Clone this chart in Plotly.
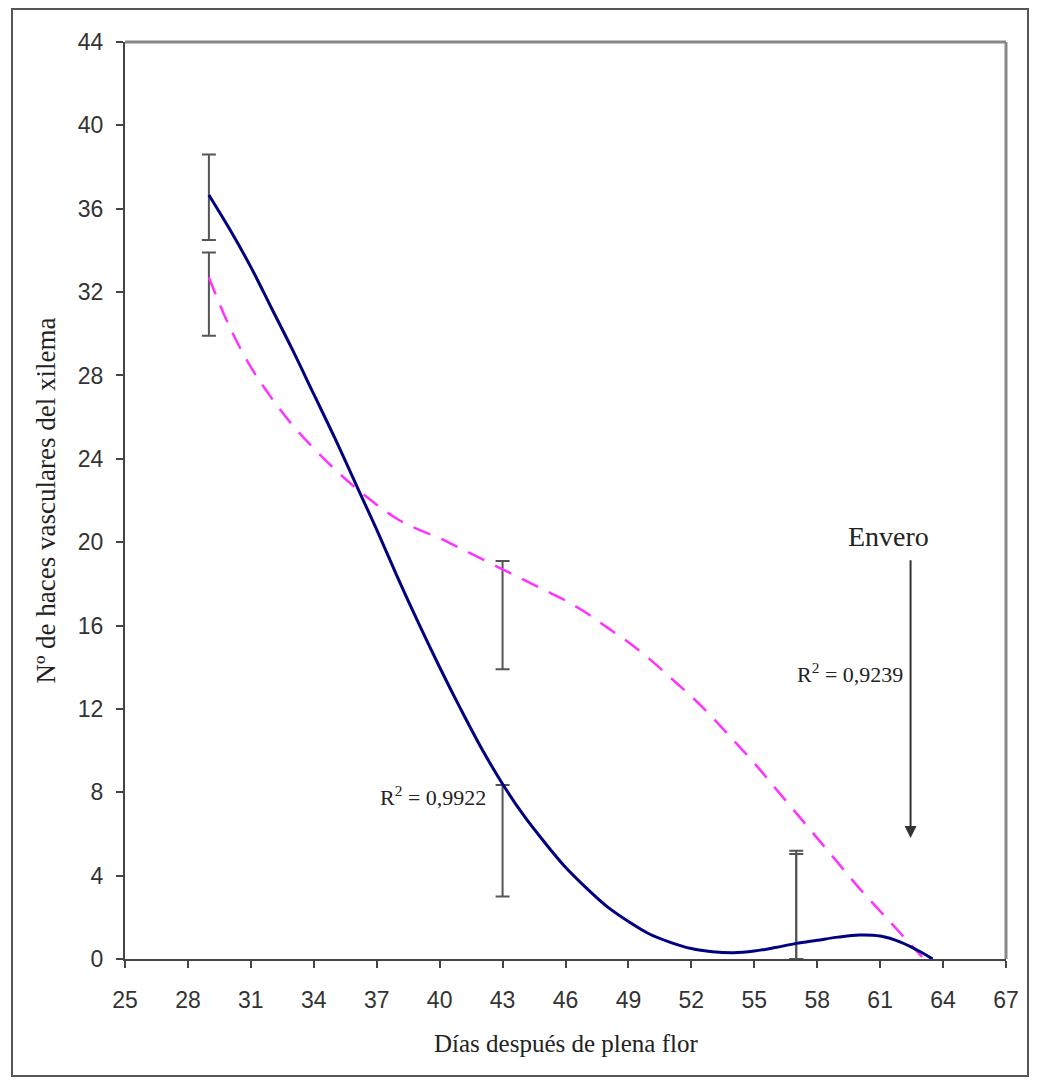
import plotly.graph_objects as go

# ---- data ----
blue_x = [29, 30, 31, 32, 33, 34, 35, 36, 37, 38, 39, 40, 41, 42, 43, 44, 45, 46, 47, 48,
          49, 50, 51, 52, 53, 54, 55, 56, 57, 58, 59, 60, 61, 62, 63, 63.5]
blue_y = [36.66, 35.0, 33.2, 31.2, 29.2, 27.1, 25.0, 22.8, 20.6, 18.3, 16.1, 14.0, 12.0,
          10.1, 8.4, 6.9, 5.6, 4.4, 3.4, 2.5, 1.8, 1.2, 0.8, 0.5, 0.35, 0.3, 0.38, 0.55,
          0.75, 0.9, 1.05, 1.15, 1.1, 0.8, 0.3, 0.0]

pink_x = [29, 30, 31, 32, 33, 34, 35, 36, 37, 38, 39, 40, 41, 42, 43, 44, 45, 46, 47, 48, 49,
          50, 51, 52, 53, 54, 55, 56, 57, 58, 59, 60, 61, 62, 63]
pink_y = [32.7, 30.3, 28.4, 26.9, 25.6, 24.5, 23.5, 22.6, 21.8, 21.1, 20.6, 20.2, 19.7, 19.2,
          18.7, 18.2, 17.7, 17.2, 16.6, 15.9, 15.2, 14.4, 13.5, 12.6, 11.6, 10.5, 9.4, 8.2,
          7.0, 5.8, 4.6, 3.4, 2.3, 1.2, 0.1]

err_days = [29, 43, 57]
blue_mean = [36.55, 5.675, 2.6]
blue_err = [2.05, 2.675, 2.6]
pink_mean = [31.9, 16.5, 2.52]
pink_err = [2.0, 2.6, 2.52]

x_ticks = [25, 28, 31, 34, 37, 40, 43, 46, 49, 52, 55, 58, 61, 64, 67]
y_ticks = [0, 4, 8, 12, 16, 20, 24, 28, 32, 36, 40, 44]

fig = go.Figure()

for mean, err in [(blue_mean, blue_err), (pink_mean, pink_err)]:
    fig.add_trace(go.Scatter(
        x=err_days, y=mean, mode="markers",
        marker=dict(size=1, opacity=0),
        error_y=dict(type="data", array=err, visible=True, color="#555555",
                     thickness=2, width=7),
        showlegend=False, hoverinfo="skip"))

fig.add_trace(go.Scatter(
    x=pink_x, y=pink_y, mode="lines", line_shape="spline",
    line=dict(color="#FF33FF", width=2.5, dash="18px,12px"), showlegend=False))
fig.add_trace(go.Scatter(
    x=blue_x, y=blue_y, mode="lines", line_shape="spline",
    line=dict(color="#000080", width=3), showlegend=False))

tickfont = dict(family="Liberation Sans, Arial, sans-serif", size=23, color="#333333")
serif = "Liberation Serif, Times New Roman, serif"

fig.update_layout(
    width=1040, height=1084,
    margin=dict(l=117, r=42, t=34, b=133),
    paper_bgcolor="white", plot_bgcolor="white",
    xaxis=dict(range=[25, 67], tickvals=x_ticks, ticks="outside", ticklen=7,
               tickcolor="#444444", tickwidth=2, showgrid=False, zeroline=False,
               showline=True, linecolor="#444444", linewidth=2, tickfont=tickfont,
               ticklabelstandoff=12),
    yaxis=dict(range=[0, 44], tickvals=y_ticks, ticks="outside", ticklen=7,
               tickcolor="#444444", tickwidth=2, showgrid=False, zeroline=False,
               showline=True, linecolor="#444444", linewidth=2, tickfont=tickfont,
               ticklabelstandoff=8),
    shapes=[
        dict(type="line", xref="paper", yref="paper", x0=0, x1=1, y0=1, y1=1,
             line=dict(color="#888888", width=3)),
        dict(type="line", xref="paper", yref="paper", x0=1, x1=1, y0=0, y1=1,
             line=dict(color="#888888", width=3)),
        dict(type="rect", xref="paper", yref="paper",
             x0=-113/881, x1=1 + 22/881, y0=-117/917, y1=1 + 33/917,
             line=dict(color="#555555", width=2)),
    ],
    annotations=[
        dict(text="Días después de plena flor", xref="paper", yref="paper",
             x=0.5, y=-84/917, xanchor="center", yanchor="middle", showarrow=False,
             font=dict(family=serif, size=25, color="#222222")),
        dict(text="Nº de haces vasculares del xilema", xref="paper", yref="paper",
             x=-80/881, y=0.5, textangle=-90, xanchor="center", yanchor="middle",
             showarrow=False, font=dict(family=serif, size=27, color="#222222")),
        dict(text="R<sup>2</sup> = 0,9922", x=42.3, y=7.8, xanchor="right",
             yanchor="middle", showarrow=False,
             font=dict(family=serif, size=22, color="#222222")),
        dict(text="R<sup>2</sup> = 0,9239", x=62.2, y=13.7, xanchor="right",
             yanchor="middle", showarrow=False,
             font=dict(family=serif, size=22, color="#222222")),
        dict(text="Envero", x=61.4, y=20.25, xanchor="center", yanchor="middle",
             showarrow=False, font=dict(family=serif, size=28, color="#222222")),
        dict(x=62.45, y=5.8, ax=62.45, ay=19.2, xref="x", yref="y", axref="x", ayref="y",
             text="", showarrow=True, arrowhead=2, arrowsize=1.2, arrowwidth=2,
             arrowcolor="#333333"),
    ],
)

fig.write_html("out.html")
